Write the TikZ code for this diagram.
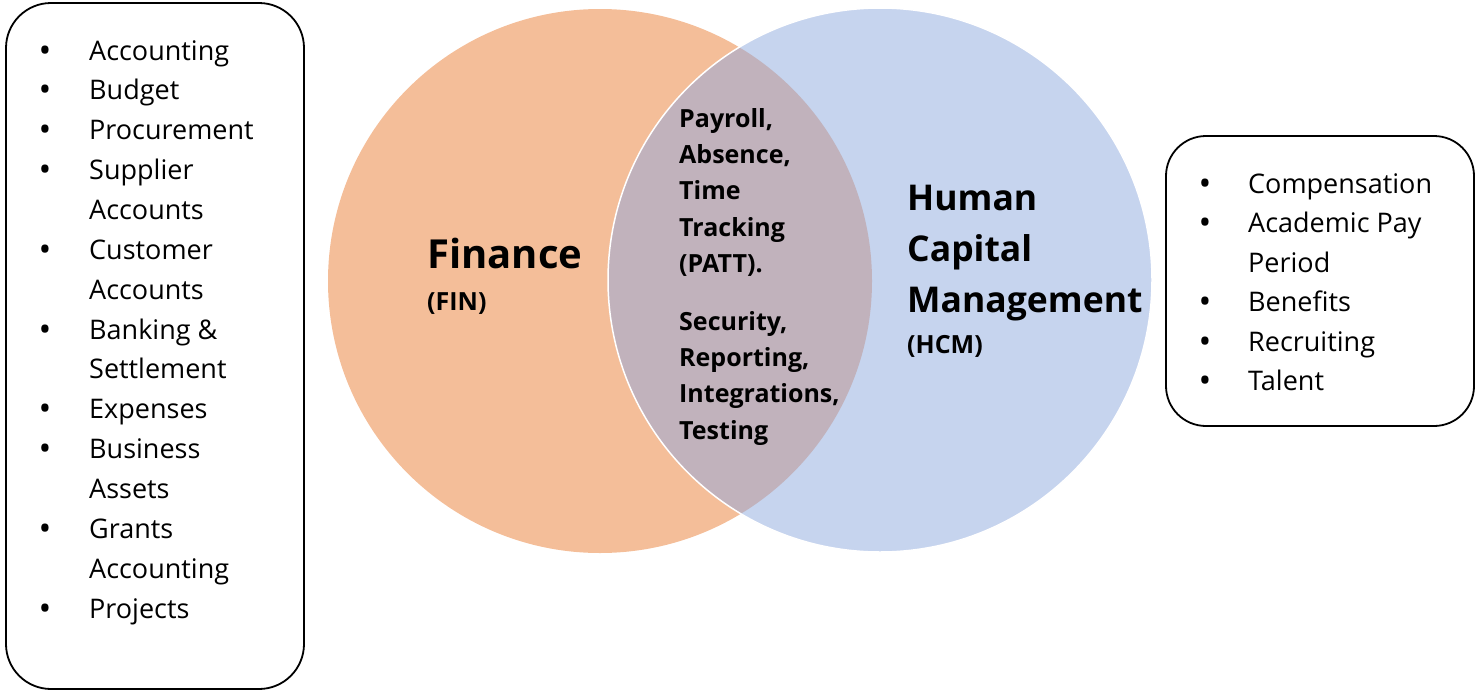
\documentclass[tikz,border=0pt]{standalone}
\usepackage{fontspec}
\setmainfont{Open Sans}
\definecolor{finorange}{RGB}{244,190,153}
\definecolor{hcmblue}{RGB}{198,212,238}
\definecolor{overlap}{RGB}{193,178,188}
\begin{document}
\begin{tikzpicture}[x=1pt,y=-1pt,
    item/.style={anchor=base west,inner sep=0pt,font=\fontsize{27}{32}\selectfont},
    dot/.style={anchor=base,inner sep=0pt,font=\fontsize{34}{40}\selectfont},
    heading/.style={anchor=base west,inner sep=0pt,font=\bfseries\fontsize{#1}{#1}\selectfont},
    listbox/.style={draw,line width=1.8pt,rounded corners=#1}]
  \useasboundingbox (0,0) rectangle (1476,691);
  % the two circles and their overlap
  \fill[finorange] (600,281) circle (272pt);
  \fill[hcmblue] (880,280) circle (272pt);
  \begin{scope}
    \clip (600,281) circle (272pt);
    \fill[overlap] (880,280) circle (272pt);
  \end{scope}
  \draw[white,line width=1.5pt] (880,280) circle (272pt);
  % list boxes
  \draw[listbox=45pt] (6,3) rectangle (304,689);
  \draw[listbox=40pt] (1166,136) rectangle (1474,426);
  % finance list
  \foreach \t [count=\i from 0] in {Accounting,Budget,Procurement,Supplier,Accounts,Customer,Accounts,Banking \&,Settlement,Expenses,Business,Assets,Grants,Accounting,Projects}
    \node[item] (fin\i) at (89,{60+39.86*\i}) {\t};
  \foreach \i in {0,1,2,3,5,7,9,10,12,14}
    \node[dot] (findot\i) at (45,{62+39.86*\i}) {\textbullet};
  % hcm list
  \foreach \t [count=\i from 0] in {Compensation,Academic Pay,Period,Benefits,Recruiting,Talent}
    \node[item] (hcm\i) at (1248,{193+39.5*\i}) {\t};
  \foreach \i in {0,1,3,4,5}
    \node[dot] (hcmdot\i) at (1205,{195+39.5*\i}) {\textbullet};
  % circle titles
  \node[heading=40] (fin) at (427,268) {Finance};
  \node[heading=25] (finabbr) at (427,310) {(FIN)};
  \foreach \t [count=\i from 0] in {Human,Capital,Management}
    \node[heading=35.5] (hcm-title\i) at (907,{210+51*\i}) {\t};
  \node[heading=25] (hcmabbr) at (907,353) {(HCM)};
  % shared part
  \foreach \t [count=\i from 0] in {{Payroll,},{Absence,},Time,Tracking,(PATT).}
    \node[heading=25] (patt\i) at (679,{127+36.4*\i}) {\t};
  \foreach \t [count=\i from 0] in {{Security,},{Reporting,},{Integrations,},Testing}
    \node[heading=25] (shared\i) at (679,{330+36.4*\i}) {\t};
\end{tikzpicture}
\end{document}
